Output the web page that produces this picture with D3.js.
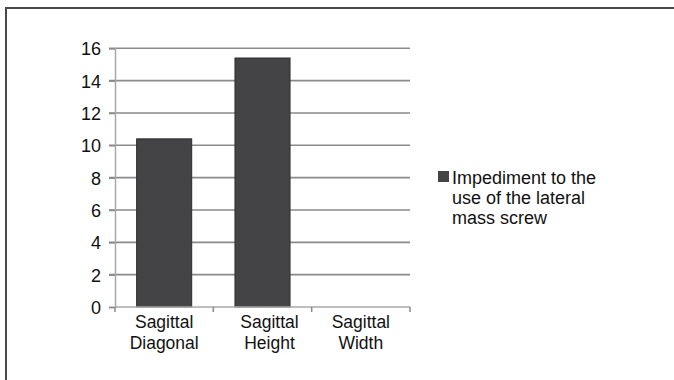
<!DOCTYPE html>
<html>
<head>
<meta charset="utf-8">
<script src="https://cdn.jsdelivr.net/npm/d3@7/dist/d3.min.js"></script>
<style>
  html, body { margin: 0; padding: 0; background: #fff; }
  svg { display: block; font-family: "Liberation Sans", Arial, sans-serif; }
</style>
</head>
<body>
<svg id="chart" width="674" height="380"></svg>
<script>
// Chart data
const categories = [["Sagittal", "Diagonal"], ["Sagittal", "Height"], ["Sagittal", "Width"]];
const values = [10.4, 15.4, 0];
const yTicks = [0, 2, 4, 6, 8, 10, 12, 14, 16];
const seriesName = ["Impediment to the", "use of the lateral", "mass screw"];

const svg = d3.select("#chart");

// Outer frame (top and left edges visible)
svg.append("path")
  .attr("d", "M6,380 L6,8 L674,8")
  .attr("fill", "none")
  .attr("stroke", "#4a4a4a")
  .attr("stroke-width", 2);

const plot = { left: 115, right: 410, top: 48.3, bottom: 307 };

const x = d3.scaleBand()
  .domain(d3.range(categories.length))
  .range([plot.left, plot.right])
  .paddingInner(0.44)
  .paddingOuter(0.22);

const y = d3.scaleLinear().domain([0, 16]).range([plot.bottom, plot.top]);

// Horizontal gridlines with tick stubs
svg.append("g").selectAll("line")
  .data(yTicks.filter(d => d > 0))
  .join("line")
  .attr("x1", plot.left - 6)
  .attr("x2", plot.right)
  .attr("y1", d => y(d))
  .attr("y2", d => y(d))
  .attr("stroke", "#8a8a8a")
  .attr("stroke-width", 1.6);

// Y axis
const yAxis = svg.append("g")
  .attr("transform", `translate(${plot.left},0)`)
  .call(d3.axisLeft(y).tickValues(yTicks).tickSize(6).tickPadding(8));
yAxis.select(".domain").attr("stroke", "#a8a8a8").attr("stroke-width", 1.5);
yAxis.selectAll(".tick line").attr("stroke", "#8a8a8a").attr("stroke-width", 1.5);
yAxis.selectAll(".tick text")
  .attr("font-size", 18)
  .attr("fill", "#111")
  .attr("dy", "0.36em")
  .attr("font-family", "'Liberation Sans', Arial, sans-serif");

// Bars
svg.append("g").selectAll("rect")
  .data(values)
  .join("rect")
  .attr("x", (d, i) => x(i))
  .attr("width", x.bandwidth())
  .attr("y", d => y(d))
  .attr("height", d => y(0) - y(d))
  .attr("fill", "#444446")
  .attr("stroke", "#2e2e2e")
  .attr("stroke-width", 1);

// X axis baseline and category separators
const xAxis = svg.append("g");
xAxis.append("line")
  .attr("x1", plot.left).attr("x2", plot.right)
  .attr("y1", plot.bottom).attr("y2", plot.bottom)
  .attr("stroke", "#a8a8a8").attr("stroke-width", 1.5);
xAxis.selectAll("line.sep")
  .data(d3.range(categories.length + 1))
  .join("line")
  .attr("class", "sep")
  .attr("x1", i => plot.left + i * (plot.right - plot.left) / categories.length)
  .attr("x2", i => plot.left + i * (plot.right - plot.left) / categories.length)
  .attr("y1", plot.bottom)
  .attr("y2", plot.bottom + 5)
  .attr("stroke", "#8a8a8a").attr("stroke-width", 1.5);

// Category labels (two lines each); the middle label sits slightly right of its bar
const labels = xAxis.selectAll("text")
  .data(categories)
  .join("text")
  .attr("x", (d, i) => x(i) + x.bandwidth() / 2 + (i === 1 ? 7 : 0))
  .attr("y", plot.bottom + 21)
  .attr("text-anchor", "middle")
  .attr("font-size", 17.5)
  .attr("fill", "#111");
labels.selectAll("tspan")
  .data(d => d)
  .join("tspan")
  .attr("x", function() { return this.parentNode.getAttribute("x"); })
  .attr("dy", (d, i) => i === 0 ? 0 : 21)
  .text(d => d);

// Legend
const legend = svg.append("g").attr("transform", "translate(438,171)");
legend.append("rect")
  .attr("width", 11).attr("height", 11)
  .attr("fill", "#444446");
legend.append("text")
  .attr("font-size", 18)
  .attr("fill", "#111")
  .selectAll("tspan")
  .data(seriesName)
  .join("tspan")
  .attr("x", 14)
  .attr("y", (d, i) => 12.5 + i * 20)
  .text(d => d);
</script>
</body>
</html>
